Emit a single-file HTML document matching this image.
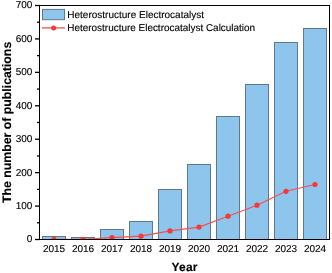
<!DOCTYPE html><html><head><meta charset="utf-8"><style>html,body{margin:0;padding:0;background:#fff;width:332px;height:273px;overflow:hidden}svg{display:block;will-change:transform}text{font-family:"Liberation Sans", sans-serif;text-rendering:geometricPrecision;stroke:#000;stroke-width:0.12px;paint-order:stroke}</style></head><body>
<svg width="332" height="273" viewBox="0 0 332 273" >
<rect width="332" height="273" fill="#fff"/>
<defs><clipPath id="cp"><rect x="39.5" y="5.5" width="290" height="234"/></clipPath></defs>
<g clip-path="url(#cp)">
<rect x="42.50" y="236.50" width="23.00" height="4.85" fill="#8ec5ec" stroke="#62788d" stroke-width="1"/>
<rect x="71.50" y="237.50" width="23.00" height="3.85" fill="#8ec5ec" stroke="#62788d" stroke-width="1"/>
<rect x="100.50" y="229.50" width="23.00" height="11.85" fill="#8ec5ec" stroke="#62788d" stroke-width="1"/>
<rect x="129.50" y="221.50" width="23.00" height="19.85" fill="#8ec5ec" stroke="#62788d" stroke-width="1"/>
<rect x="158.50" y="189.50" width="23.00" height="51.85" fill="#8ec5ec" stroke="#62788d" stroke-width="1"/>
<rect x="187.50" y="164.50" width="23.00" height="76.85" fill="#8ec5ec" stroke="#62788d" stroke-width="1"/>
<rect x="216.50" y="116.50" width="23.00" height="124.85" fill="#8ec5ec" stroke="#62788d" stroke-width="1"/>
<rect x="245.50" y="84.50" width="23.00" height="156.85" fill="#8ec5ec" stroke="#62788d" stroke-width="1"/>
<rect x="274.50" y="42.50" width="23.00" height="198.85" fill="#8ec5ec" stroke="#62788d" stroke-width="1"/>
<rect x="303.50" y="28.50" width="23.00" height="212.85" fill="#8ec5ec" stroke="#62788d" stroke-width="1"/>
<polyline points="54.00,239.45 83.00,239.45 112.00,237.71 141.00,236.21 170.00,230.89 199.00,227.08 228.00,216.19 257.00,205.19 286.00,191.29 315.00,184.51" fill="none" stroke="#f25050" stroke-width="1.2"/>
<circle cx="54.00" cy="239.45" r="2.6" fill="#f63838"/>
<circle cx="83.00" cy="239.45" r="2.6" fill="#f63838"/>
<circle cx="112.00" cy="237.71" r="2.6" fill="#f63838"/>
<circle cx="141.00" cy="236.21" r="2.6" fill="#f63838"/>
<circle cx="170.00" cy="230.89" r="2.6" fill="#f63838"/>
<circle cx="199.00" cy="227.08" r="2.6" fill="#f63838"/>
<circle cx="228.00" cy="216.19" r="2.6" fill="#f63838"/>
<circle cx="257.00" cy="205.19" r="2.6" fill="#f63838"/>
<circle cx="286.00" cy="191.29" r="2.6" fill="#f63838"/>
<circle cx="315.00" cy="184.51" r="2.6" fill="#f63838"/>
</g>
<rect x="39.5" y="5.5" width="290" height="234" fill="none" stroke="#000" stroke-width="1"/>
<line x1="35" y1="239.5" x2="39.5" y2="239.5" stroke="#000" stroke-width="1.3"/>
<text x="32.4" y="242.40" font-size="10" text-anchor="end" fill="#000">0</text>
<line x1="35" y1="206.07" x2="39.5" y2="206.07" stroke="#000" stroke-width="1.3"/>
<text x="32.4" y="208.97" font-size="10" text-anchor="end" fill="#000">100</text>
<line x1="35" y1="172.64" x2="39.5" y2="172.64" stroke="#000" stroke-width="1.3"/>
<text x="32.4" y="175.54" font-size="10" text-anchor="end" fill="#000">200</text>
<line x1="35" y1="139.21" x2="39.5" y2="139.21" stroke="#000" stroke-width="1.3"/>
<text x="32.4" y="142.11" font-size="10" text-anchor="end" fill="#000">300</text>
<line x1="35" y1="105.79" x2="39.5" y2="105.79" stroke="#000" stroke-width="1.3"/>
<text x="32.4" y="108.69" font-size="10" text-anchor="end" fill="#000">400</text>
<line x1="35" y1="72.36" x2="39.5" y2="72.36" stroke="#000" stroke-width="1.3"/>
<text x="32.4" y="75.26" font-size="10" text-anchor="end" fill="#000">500</text>
<line x1="35" y1="38.93" x2="39.5" y2="38.93" stroke="#000" stroke-width="1.3"/>
<text x="32.4" y="41.83" font-size="10" text-anchor="end" fill="#000">600</text>
<line x1="35" y1="5.5" x2="39.5" y2="5.5" stroke="#000" stroke-width="1.3"/>
<text x="32.4" y="8.40" font-size="10" text-anchor="end" fill="#000">700</text>
<line x1="37" y1="222.79" x2="39.5" y2="222.79" stroke="#000" stroke-width="1.3"/>
<line x1="37" y1="189.36" x2="39.5" y2="189.36" stroke="#000" stroke-width="1.3"/>
<line x1="37" y1="155.93" x2="39.5" y2="155.93" stroke="#000" stroke-width="1.3"/>
<line x1="37" y1="122.5" x2="39.5" y2="122.5" stroke="#000" stroke-width="1.3"/>
<line x1="37" y1="89.07" x2="39.5" y2="89.07" stroke="#000" stroke-width="1.3"/>
<line x1="37" y1="55.64" x2="39.5" y2="55.64" stroke="#000" stroke-width="1.3"/>
<line x1="37" y1="22.21" x2="39.5" y2="22.21" stroke="#000" stroke-width="1.3"/>
<text x="54.00" y="251.9" font-size="10" text-anchor="middle" fill="#000">2015</text>
<text x="83.00" y="251.9" font-size="10" text-anchor="middle" fill="#000">2016</text>
<text x="112.00" y="251.9" font-size="10" text-anchor="middle" fill="#000">2017</text>
<text x="141.00" y="251.9" font-size="10" text-anchor="middle" fill="#000">2018</text>
<text x="170.00" y="251.9" font-size="10" text-anchor="middle" fill="#000">2019</text>
<text x="199.00" y="251.9" font-size="10" text-anchor="middle" fill="#000">2020</text>
<text x="228.00" y="251.9" font-size="10" text-anchor="middle" fill="#000">2021</text>
<text x="257.00" y="251.9" font-size="10" text-anchor="middle" fill="#000">2022</text>
<text x="286.00" y="251.9" font-size="10" text-anchor="middle" fill="#000">2023</text>
<text x="315.00" y="251.9" font-size="10" text-anchor="middle" fill="#000">2024</text>
<text x="184.6" y="271.4" font-size="12" letter-spacing="0.2" font-weight="bold" text-anchor="middle">Year</text>
<text transform="translate(10.6,122.4) rotate(-90)" font-size="12.3" font-weight="bold" text-anchor="middle">The number of publications</text>
<rect x="42.5" y="9.4" width="22" height="10.3" fill="#8ec5ec" stroke="#62788d" stroke-width="1"/>
<text x="67.3" y="17.8" font-size="10">Heterostructure Electrocatalyst</text>
<line x1="42" y1="27.9" x2="65" y2="27.9" stroke="#f25050" stroke-width="1.3"/>
<circle cx="53.6" cy="27.9" r="2.5" fill="#f63838"/>
<text x="67.3" y="31.3" font-size="9.95">Heterostructure Electrocatalyst Calculation</text>
</svg></body></html>
